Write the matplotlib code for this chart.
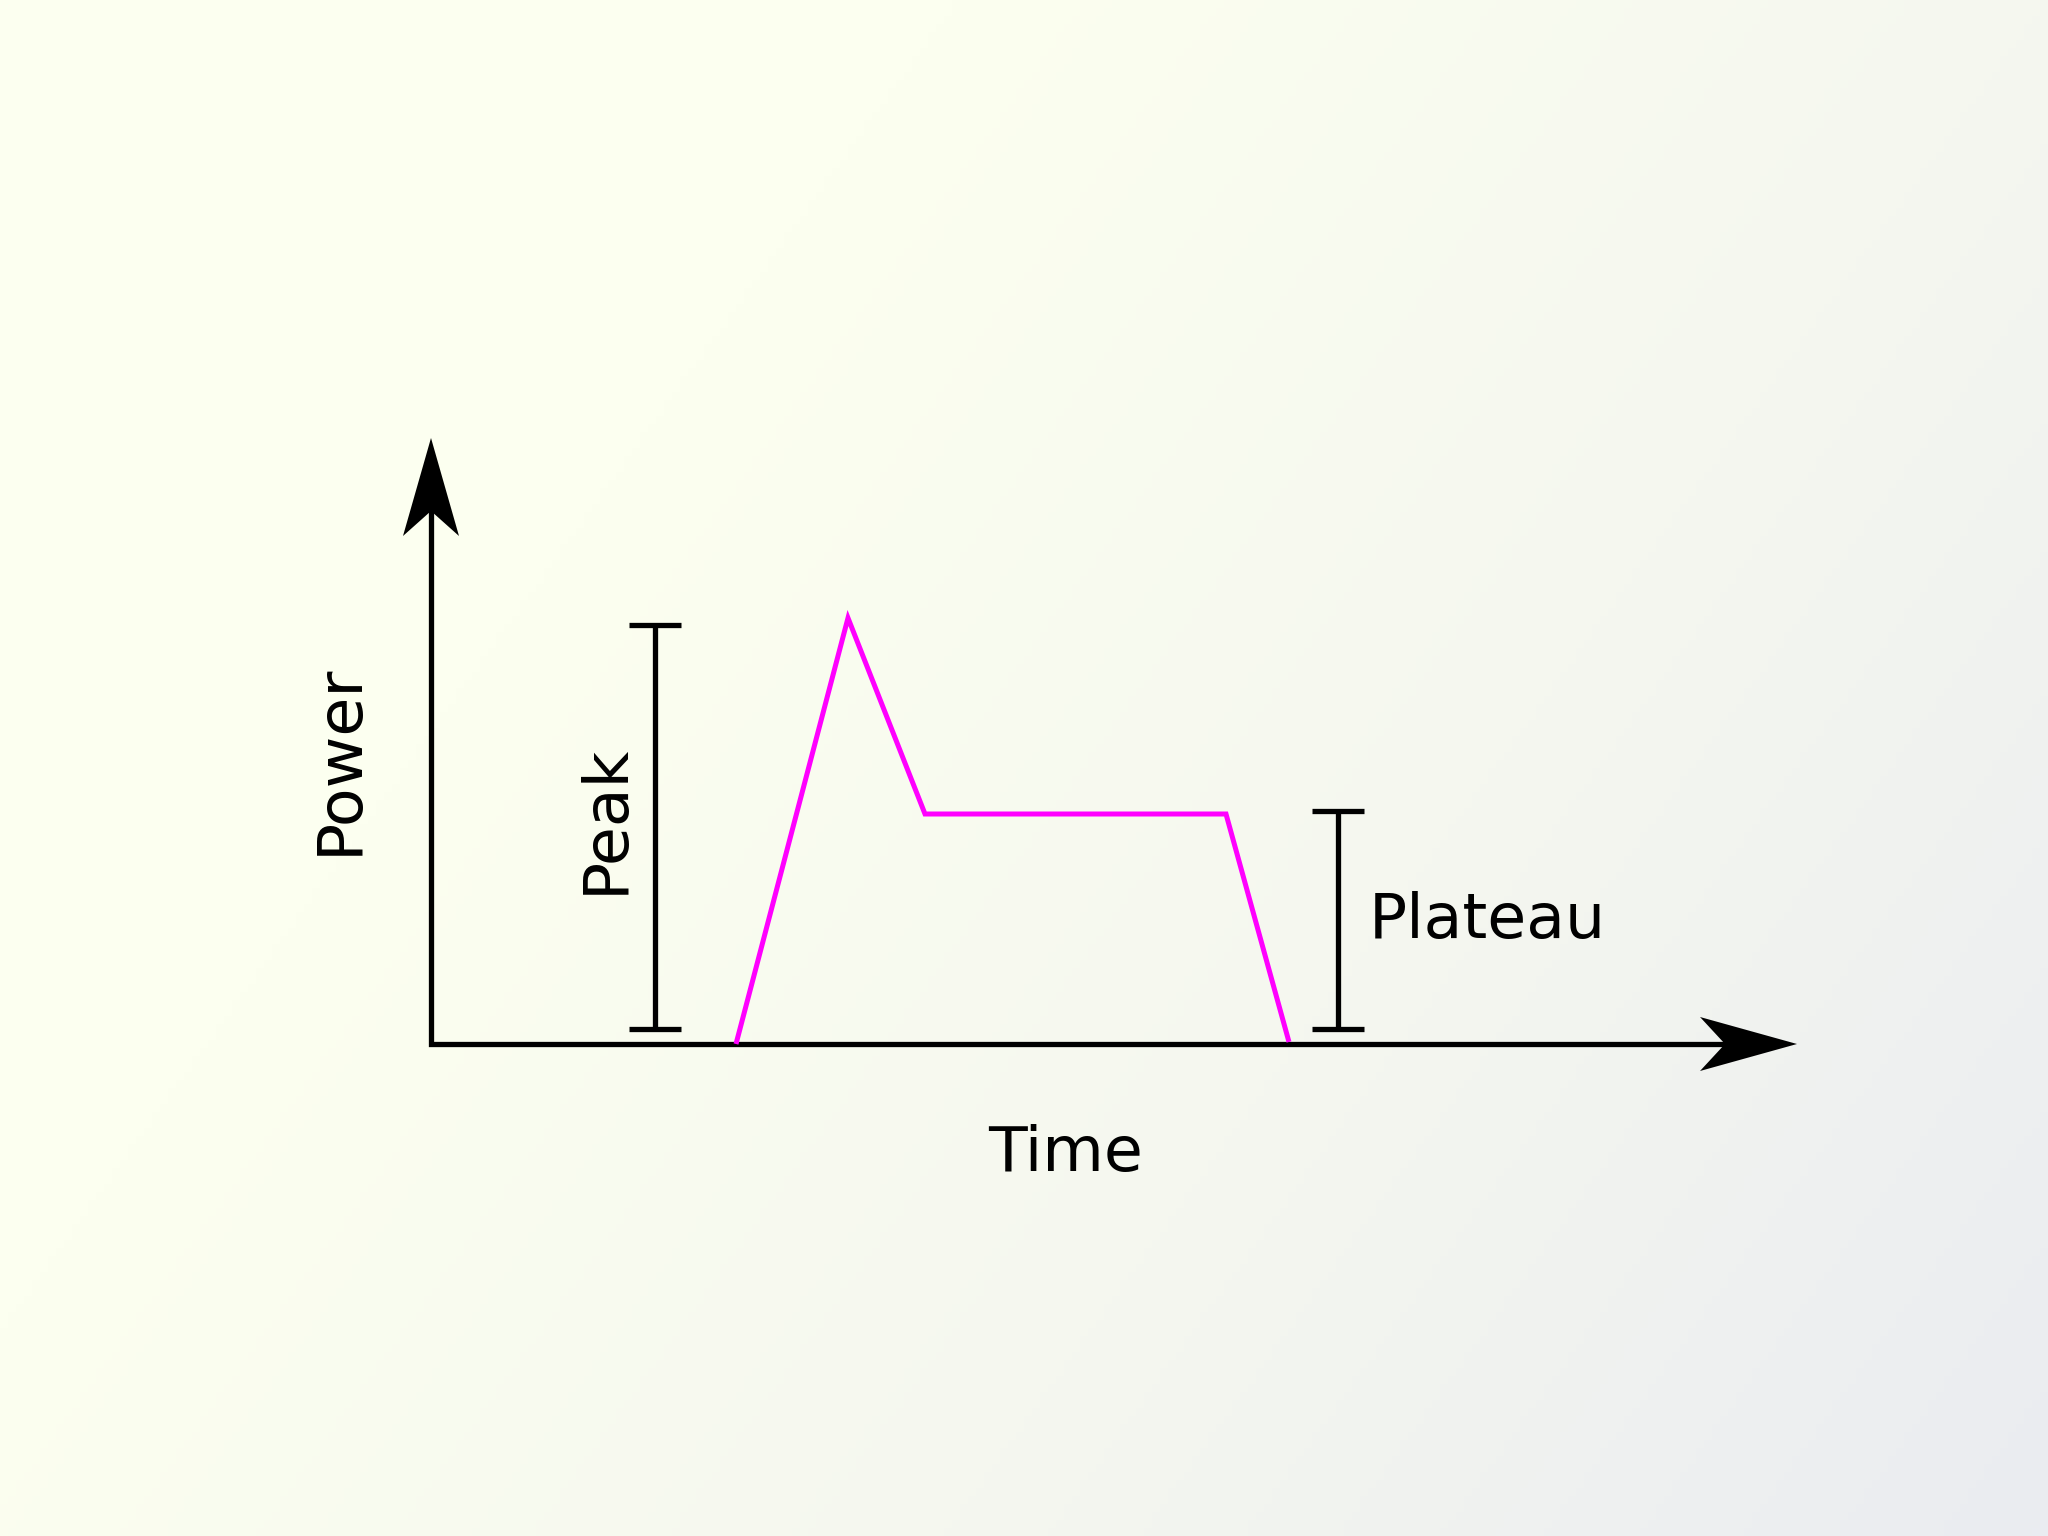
import numpy as np
import matplotlib
matplotlib.use("Agg")
import matplotlib.pyplot as plt
from matplotlib.patches import Polygon
from matplotlib.colors import LinearSegmentedColormap

# Data
time = [3.05, 4.17, 4.94, 7.95, 8.58]
power = [0.0, 4.26, 2.30, 2.30, 0.02]
peak_range = [0.15, 4.19]
plateau_range = [0.15, 2.33]
peak_x = 2.24
plateau_x = 9.07
labels = {"x": "Time", "y": "Power", "peak": "Peak", "plateau": "Plateau"}

W, H, DPI = 2048, 1536, 100
fig = plt.figure(figsize=(W / DPI, H / DPI), dpi=DPI)
ax = fig.add_axes([0, 0, 1, 1])
x0, x1 = -4.31, 16.17
y0, y1 = -4.92, 10.44
ax.set_xlim(x0, x1)
ax.set_ylim(y0, y1)
ax.axis("off")

# Background diagonal gradient: light yellow left/top-left -> light grey-blue bottom-right
gx, gy = np.meshgrid(np.linspace(0, 1, 256), np.linspace(0, 1, 192))
g = np.clip((gx * 0.65 + gy * 0.35 - 0.3) / 0.7, 0, 1)
cmap = LinearSegmentedColormap.from_list("bg", ["#fcfff0", "#f5f7ef", "#eaecf1"])
ax.imshow(g, extent=[x0, x1, y0, y1], cmap=cmap, aspect="auto", zorder=0,
          origin="upper", vmin=0, vmax=1)
ax.set_xlim(x0, x1)
ax.set_ylim(y0, y1)

lw = 3.8
# Axes lines
ax.plot([0, 0, 13.0], [5.4, 0, 0], color="black", lw=lw, solid_joinstyle="miter",
        solid_capstyle="butt", zorder=2)
# Arrowheads
ax.add_patch(Polygon([[0, 6.06], [0.28, 5.08], [0, 5.33], [-0.28, 5.08]], closed=True,
                     facecolor="black", edgecolor="none", zorder=3))
ax.add_patch(Polygon([[13.66, 0], [12.69, 0.27], [12.94, 0], [12.69, -0.27]], closed=True,
                     facecolor="black", edgecolor="none", zorder=3))

# Curve
ax.plot(time, power, color="#ff00ff", lw=3.6, solid_joinstyle="miter",
        solid_capstyle="butt", zorder=4)

# Brackets
cap = 0.26
for bx, (lo, hi) in [(peak_x, peak_range), (plateau_x, plateau_range)]:
    ax.plot([bx, bx], [lo, hi], color="black", lw=lw, solid_capstyle="butt", zorder=3)
    ax.plot([bx - cap, bx + cap], [lo, lo], color="black", lw=lw, solid_capstyle="butt", zorder=3)
    ax.plot([bx - cap, bx + cap], [hi, hi], color="black", lw=lw, solid_capstyle="butt", zorder=3)

fs = 45.5
ax.text(-0.91, 2.85, labels["y"], rotation=90, ha="center", va="center", fontsize=fs,
        family="DejaVu Sans")
ax.text(1.75, 2.25, labels["peak"], rotation=90, ha="center", va="center", fontsize=fs,
        family="DejaVu Sans")
ax.text(9.38, 1.06, labels["plateau"], ha="left", va="baseline", fontsize=fs,
        family="DejaVu Sans")
ax.text(6.35, -1.27, labels["x"], ha="center", va="baseline", fontsize=fs,
        family="DejaVu Sans")

fig.savefig("out.png", dpi=DPI)
